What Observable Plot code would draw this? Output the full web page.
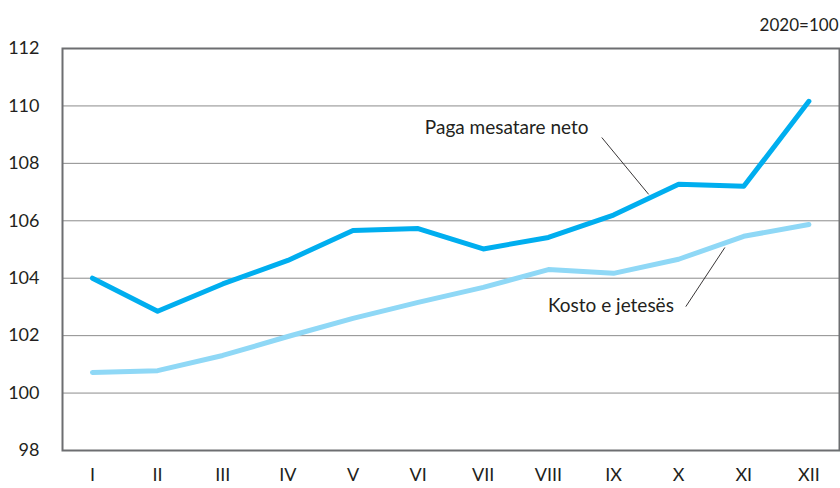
<!DOCTYPE html>
<html>
<head>
<meta charset="utf-8">
<script src="https://cdn.jsdelivr.net/npm/d3@7"></script>
<script src="https://cdn.jsdelivr.net/npm/@observablehq/plot@0.6"></script>
<style>
  html, body { margin: 0; padding: 0; background: #fff; }
  #chart svg { display: block; }
</style>
</head>
<body>
<div id="chart"></div>
<script>
const months = ["I","II","III","IV","V","VI","VII","VIII","IX","X","XI","XII"];
const pagaValues = [104.0, 102.85, 103.8, 104.62, 105.66, 105.73, 105.02, 105.42, 106.2, 107.27, 107.2, 110.16];
const kostoValues = [100.72, 100.78, 101.31, 101.97, 102.6, 103.16, 103.68, 104.3, 104.17, 104.66, 105.46, 105.87];
const yTicks = [98, 100, 102, 104, 106, 108, 110, 112];
const gridTicks = [100, 102, 104, 106, 108, 110];
const seriesNames = ["Paga mesatare neto", "Kosto e jetesës"];
const unitNote = "2020=100";

// annotation anchors in data units (month index, index value)
const labels = [
  {name: seriesNames[0], m: 7.36, v: 109.25},
  {name: seriesNames[1], m: 8.96, v: 103.05}
];
const leaders = [
  {m1: 8.82, v1: 108.9, m2: 9.54, v2: 106.92},
  {m1: 10.11, v1: 103.01, m2: 10.71, v2: 105.07}
];

const paga = months.map((m, i) => ({m: i + 1, v: pagaValues[i]}));
const kosto = months.map((m, i) => ({m: i + 1, v: kostoValues[i]}));

const font = "Lato, 'Noto Sans', sans-serif";

const chart = Plot.plot({
  width: 840,
  height: 488,
  marginLeft: 62,
  marginRight: 1,
  marginTop: 48,
  marginBottom: 38,
  style: {fontFamily: font, fontSize: "18px", color: "#231f20", background: "#fff"},
  x: {domain: [0.54, 12.47], ticks: d3.range(1, 13), tickFormat: d => months[d - 1], label: null, tickSize: 0, tickPadding: 18},
  y: {domain: [98, 112], ticks: yTicks, label: null, tickSize: 0, tickPadding: 23},
  marks: [
    Plot.ruleY(gridTicks, {stroke: "#8c8c8c", strokeWidth: 1}),
    Plot.frame({stroke: "#6d6e71", strokeWidth: 2}),
    Plot.axisX({ticks: d3.range(1, 13), tickFormat: d => months[d - 1], tickSize: 0, tickPadding: 18, fontSize: 18, label: null}),
    Plot.axisY({ticks: yTicks, tickSize: 0, tickPadding: 23, fontSize: 18, label: null}),
    Plot.line(kosto, {x: "m", y: "v", stroke: "#8fd8f6", strokeWidth: 5, strokeLinejoin: "round", strokeLinecap: "round"}),
    Plot.line(paga, {x: "m", y: "v", stroke: "#00aeef", strokeWidth: 5, strokeLinejoin: "round", strokeLinecap: "round"}),
    Plot.link(leaders, {x1: "m1", y1: "v1", x2: "m2", y2: "v2", stroke: "#231f20", strokeWidth: 0.9}),
    Plot.text(labels, {x: "m", y: "v", text: "name", fontSize: 19, fill: "#231f20", textAnchor: "middle"}),
    Plot.text([unitNote], {frameAnchor: "top-right", text: d => d, dy: -30, dx: -1, fontSize: 17, fill: "#231f20"})
  ]
});

document.getElementById("chart").appendChild(chart);
</script>
</body>
</html>
